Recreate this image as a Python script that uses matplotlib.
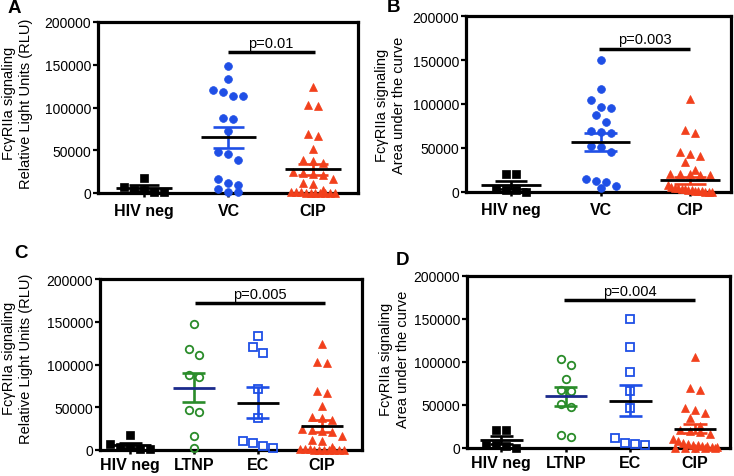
import numpy as np
import matplotlib.pyplot as plt

plt.rcParams['font.family'] = ['Liberation Sans', 'DejaVu Sans']

BLUE = '#1f4fe6'
RED = '#f2401c'
GREEN = '#2a8c2a'
NAVY = '#1b2a8c'

# values, in thousands
# A: relative light units
a_hivneg = [17, 7, 4, 3, 1, 1]
a_vc = [148, 133, 121, 118, 114, 113, 88, 87, 72, 48, 46, 39, 16, 12, 9, 5, 1, 1]
a_cip = [124, 103, 102, 69, 67, 51, 39, 37, 35, 24, 23, 22, 21, 16, 12, 10,
         3, 1, 1, 1, 0, 0, 0, 0, 0, 0, 0]
# B: area under the curve
b_hivneg = [20, 20, 3, 2, 2, 0]
b_vc = [150, 117, 104, 97, 96, 88, 80, 69, 68, 67, 52, 51, 45, 15, 13, 11, 7, 5]
b_cip = [106, 70, 67, 45, 43, 41, 34, 25, 21, 20, 20, 19, 19, 8, 6, 5, 4,
         3, 3, 2, 2, 1, 1, 1, 0, 0, 0]
# C: relative light units (HIV neg and CIP as in A)
c_ltnp = [147, 118, 111, 88, 85, 47, 45, 16, 2]
c_ec = [133, 121, 114, 71, 38, 11, 8, 5, 2]
# D: area under the curve
d_hivneg = [21, 21, 3, 3, 2, 0]
d_ltnp = [104, 97, 80, 68, 66, 51, 48, 15, 13]
d_ec = [150, 117, 88, 66, 46, 12, 6, 5, 4]
d_cip = [106, 70, 68, 46, 44, 41, 35, 26, 21, 20, 19, 16, 10, 8, 6, 5, 4,
         3, 2, 2, 1, 1, 0, 0, 0, 0, 0]

# mean / SEM lines as drawn, thousands
a_mean, a_sem = [5.8, 65, 28], [3, 12, 6.5]
b_mean, b_sem = [8, 57, 13.6], [4.5, 10.5, 4]
c_mean, c_sem = [5.4, 73, 55.5, 28], [3, 16.5, 18, 7.5]
d_mean, d_sem = [9, 60, 55, 22.5], [4.5, 11, 18, 5.5]

# marker, face, edge, mean colour, sem colour, size
style = {
    'HIV neg': ('s', 'black', 'black', 'black', 'black', 5.2),
    'VC': ('o', BLUE, BLUE, 'black', BLUE, 5.6),
    'CIP': ('^', RED, RED, 'black', RED, 6.2),
    'LTNP': ('o', 'none', GREEN, NAVY, GREEN, 5.4),
    'EC': ('s', 'none', BLUE, 'black', BLUE, 5.2),
}

W, H = 734, 477
fig = plt.figure(figsize=(W / 100, H / 100), dpi=100)


def spread(ax, x, vals, rowh=8, step0=10, maxw=44):
    y = np.asarray(vals, float)
    pts = ax.transData.transform(np.column_stack([np.full(len(y), x), y]))
    py = pts[:, 1]
    order = np.argsort(-py, kind='stable')
    rows = []
    for i in order:
        if rows and py[rows[-1][0]] - py[i] < rowh:
            rows[-1].append(i)
        else:
            rows.append([i])
    off = np.zeros(len(y))
    for r in rows:
        n = len(r)
        step = min(step0, maxw / max(n - 1, 1))
        for k, i in enumerate(r):
            off[i] = (k - (n - 1) / 2) * step
    xs = ax.transData.inverted().transform(np.column_stack([pts[:, 0] + off, py]))[:, 0]
    return xs


panels = [
    dict(letter='A', box=(98, 23, 358, 194), xlim=(-0.544, 2.533),
         groups=['HIV neg', 'VC', 'CIP'], data=[a_hivneg, a_vc, a_cip],
         mean=a_mean, sem=a_sem, ylabel='FcγRIIa signaling\nRelative Light Units (RLU)',
         labx=-0.25, laby=0.53, sig=(0.99, 2.02, 165, 'p=0.01'), pad=4, lpos=(8, 13)),
    dict(letter='B', box=(466, 17, 731, 193), xlim=(-0.503, 2.458),
         groups=['HIV neg', 'VC', 'CIP'], data=[b_hivneg, b_vc, b_cip],
         mean=b_mean, sem=b_sem, ylabel='FcγRIIa signaling\nArea under the curve',
         labx=-0.226, laby=0.5, sig=(0.98, 2.0, 163, 'p=0.003'), pad=4, lpos=(387, 12)),
    dict(letter='C', box=(100, 280, 362, 451), xlim=(-0.47, 3.63),
         groups=['HIV neg', 'LTNP', 'EC', 'CIP'], data=[a_hivneg, c_ltnp, c_ec, a_cip],
         mean=c_mean, sem=c_sem, ylabel='FcγRIIa signaling\nRelative Light Units (RLU)',
         labx=-0.256, laby=0.54, sig=(1.02, 3.05, 171.6, 'p=0.005'), pad=2, lpos=(14, 258)),
    dict(letter='D', box=(467, 277, 730, 449), xlim=(-0.53, 3.54),
         groups=['HIV neg', 'LTNP', 'EC', 'CIP'], data=[d_hivneg, d_ltnp, d_ec, d_cip],
         mean=d_mean, sem=d_sem, ylabel='FcγRIIa signaling\nArea under the curve',
         labx=-0.217, laby=0.52, sig=(0.97, 3.0, 171.7, 'p=0.004'), pad=2, lpos=(396, 265)),
]

for p in panels:
    l, t, r, b = p['box']
    ax = fig.add_axes([l / W, 1 - b / H, (r - l) / W, (b - t) / H])
    ax.set_xlim(*p['xlim'])
    ax.set_ylim(0, 200000)
    for s in ax.spines.values():
        s.set_linewidth(2.3)
    ax.set_yticks([0, 50000, 100000, 150000, 200000])
    ax.set_yticklabels(['0', '50000', '100000', '150000', '200000'], fontsize=10)
    ax.set_xticks(range(len(p['groups'])))
    ax.set_xticklabels(p['groups'], fontsize=11.5, fontweight='bold')
    ax.tick_params(axis='y', length=3.5, width=1.6, pad=1.5)
    ax.tick_params(axis='x', length=3, width=1.8, pad=p['pad'])
    ax.set_ylabel(p['ylabel'], fontsize=10.5, linespacing=1.3)
    ax.yaxis.set_label_coords(p['labx'], p['laby'])

    for i, (g, vals) in enumerate(zip(p['groups'], p['data'])):
        mk, fc, ec, mc, sc, ms = style[g]
        v = np.asarray(vals) * 1000
        xs = spread(ax, i, v)
        ax.plot(xs, v, linestyle='none', marker=mk, markersize=ms, markerfacecolor=fc,
                markeredgecolor=ec, markeredgewidth=1.3 if fc == 'none' else 0.5,
                clip_on=False, zorder=3)
        m = p['mean'][i] * 1000
        e = p['sem'][i] * 1000
        ax.vlines(i, max(m - e, 0), m + e, color=sc, lw=1.9, zorder=4, clip_on=False)
        ax.hlines([m - e, m + e], i - 0.18, i + 0.18, color=sc, lw=1.9, zorder=4, clip_on=False)
        ax.hlines(m, i - 0.33, i + 0.33, color=mc, lw=2.0, zorder=5)

    x1, x2, sy, txt = p['sig']
    ax.plot([x1, x2], [sy * 1000, sy * 1000], color='black', lw=2.5, solid_capstyle='butt')
    ax.annotate(txt, ((x1 + x2) / 2, sy * 1000), xytext=(0, 1.5), textcoords='offset points',
                ha='center', va='bottom', fontsize=10.5)

    fig.text(p['lpos'][0] / W, 1 - p['lpos'][1] / H, p['letter'], fontsize=13.5,
             fontweight='bold', ha='left', va='baseline')

fig.savefig('out.png', dpi=100)
